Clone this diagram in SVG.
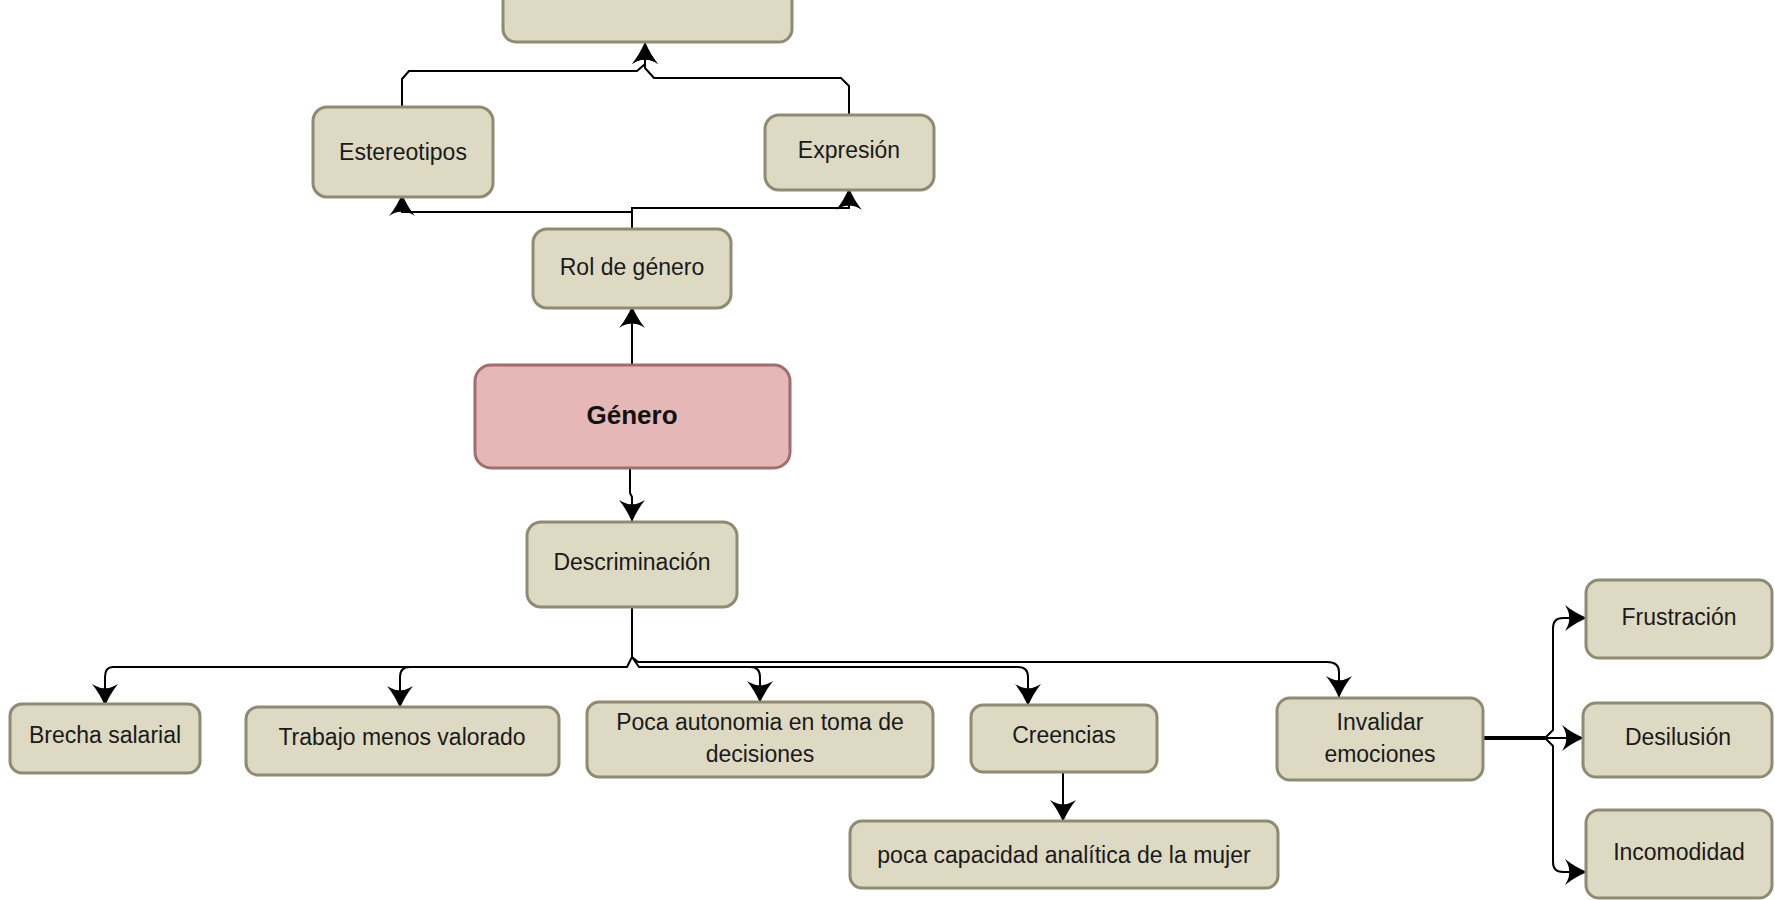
<svg xmlns="http://www.w3.org/2000/svg" width="1775" height="900" viewBox="0 0 1775 900">
<defs>
<marker id="arr" viewBox="0 0 22 26" refX="21" refY="13" markerWidth="22" markerHeight="26" markerUnits="userSpaceOnUse" orient="auto">
<path d="M22,13 Q10,8 0,0 Q5,8 4,13 Q5,18 0,26 Q10,18 22,13 Z" fill="#000"/>
</marker>
</defs>
<style>
.n{fill:#DDD9C3;stroke:#8F8B73;stroke-width:3}
.g{fill:#E5B7B7;stroke:#A06E6E;stroke-width:3}
.t{font-family:"Liberation Sans",Arial,sans-serif;font-size:23px;fill:#1a1a1a;text-anchor:middle}
.tb{font-family:"Liberation Sans",Arial,sans-serif;font-size:26px;font-weight:bold;fill:#111;text-anchor:middle}
.c{fill:none;stroke:#000;stroke-width:2}
.ca{fill:none;stroke:#000;stroke-width:2;marker-end:url(#arr)}
</style>
<rect width="1775" height="900" fill="#fff"/>
<g id="connectors">
<path class="ca" d="M632,230 V212 H402 V195"/>
<path class="ca" d="M632,212 V208 H849 V189"/>
<path class="ca" d="M402,108 V79 L409,71 H637 L645,64 V43"/>
<path class="ca" d="M849,116 V86 L841,78 H654 L645,68 V43"/>
<path class="ca" d="M632,365 V307"/>
<path class="ca" d="M630,468 V493 L632,497 V521"/>
<path class="ca" d="M632,607 V657 L627,667 H113 Q105,667 105,677 V705"/>
<path class="ca" d="M627,667 H410 Q400,667 400,677 V707"/>
<path class="ca" d="M632,657 L639,667 H750 Q760,667 760,677 V702"/>
<path class="ca" d="M750,667 H1018 Q1028,667 1028,677 V705"/>
<path class="ca" d="M632,657 L638,662 H1327 Q1339,662 1339,672 V697"/>
<path class="ca" d="M1063,772 V821"/>
<path d="M1483,738 H1545" fill="none" stroke="#000" stroke-width="4"/>
<path class="ca" d="M1545,738 L1553,730 V628 Q1553,618 1563,618 H1586"/>
<path class="ca" d="M1545,738 H1583"/>
<path class="ca" d="M1545,738 L1553,746 V862 Q1553,872 1563,872 H1586"/>
</g>
<g id="top"><rect class="n" x="503" y="-30" width="289" height="72" rx="13"/></g>
<g id="estereotipos"><rect class="n" x="313" y="107" width="180" height="90" rx="14"/><text class="t" x="403" y="160">Estereotipos</text></g>
<g id="expresion"><rect class="n" x="765" y="115" width="169" height="75" rx="14"/><text class="t" x="849" y="158">Expresión</text></g>
<g id="rol"><rect class="n" x="533" y="229" width="198" height="79" rx="14"/><text class="t" x="632" y="275">Rol de género</text></g>
<g id="genero"><rect class="g" x="475" y="365" width="315" height="103" rx="16"/><text class="tb" x="632" y="424">Género</text></g>
<g id="descriminacion"><rect class="n" x="527" y="522" width="210" height="85" rx="14"/><text class="t" x="632" y="570">Descriminación</text></g>
<g id="brecha"><rect class="n" x="10" y="704" width="190" height="69" rx="12"/><text class="t" x="105" y="743">Brecha salarial</text></g>
<g id="trabajo"><rect class="n" x="246" y="707" width="313" height="68" rx="12"/><text class="t" x="402" y="745">Trabajo menos valorado</text></g>
<g id="poca"><rect class="n" x="587" y="702" width="346" height="75" rx="12"/><text class="t" x="760" y="730">Poca autonomia en toma de</text><text class="t" x="760" y="762">decisiones</text></g>
<g id="creencias"><rect class="n" x="971" y="705" width="186" height="67" rx="12"/><text class="t" x="1064" y="743">Creencias</text></g>
<g id="capacidad"><rect class="n" x="850" y="821" width="428" height="67" rx="12"/><text class="t" x="1064" y="863">poca capacidad analítica de la mujer</text></g>
<g id="invalidar"><rect class="n" x="1277" y="698" width="206" height="82" rx="13"/><text class="t" x="1380" y="730">Invalidar</text><text class="t" x="1380" y="762">emociones</text></g>
<g id="frustracion"><rect class="n" x="1586" y="580" width="186" height="78" rx="13"/><text class="t" x="1679" y="625">Frustración</text></g>
<g id="desilusion"><rect class="n" x="1583" y="703" width="189" height="74" rx="13"/><text class="t" x="1678" y="745">Desilusión</text></g>
<g id="incomodidad"><rect class="n" x="1586" y="810" width="186" height="88" rx="13"/><text class="t" x="1679" y="860">Incomodidad</text></g>
</svg>
